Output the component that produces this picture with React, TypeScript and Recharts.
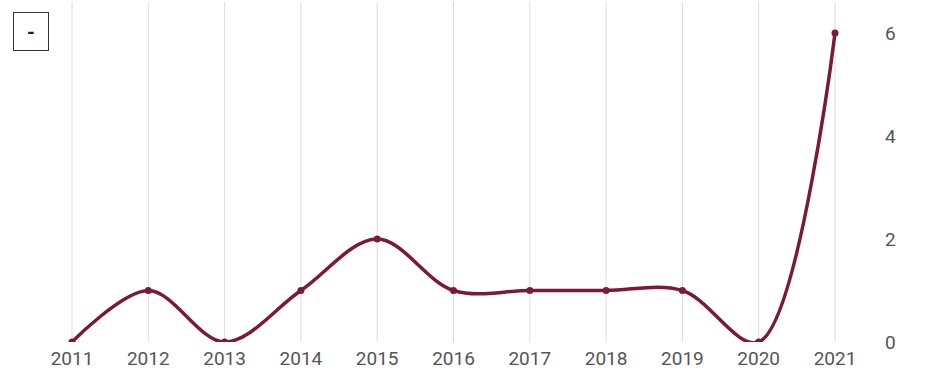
import { LineChart, Line, XAxis, YAxis, CartesianGrid } from 'recharts';

const years = ['2011', '2012', '2013', '2014', '2015', '2016', '2017', '2018', '2019', '2020', '2021'];
const counts = [0, 1, 0, 1, 2, 1, 1, 1, 1, 0, 6];
const yTicks = [0, 2, 4, 6];
const seriesName = '-';

const data = years.map((year, i) => ({ year, value: counts[i] }));

const COLOR = '#7c1a33';
const TICK_FONT = 'Roboto, sans-serif';

// centripetal catmull-rom (alpha 0.5), same maths as d3's curveCatmullRom
function catmullRom(context: any) {
  let x0 = NaN, x1 = NaN, x2 = NaN, y0 = NaN, y1 = NaN, y2 = NaN;
  let l01a = 0, l12a = 0, l23a = 0, l012a = 0, l122a = 0, l232a = 0;
  let n = 0;
  const eps = 1e-12;

  const seg = (x: number, y: number) => {
    let cx1 = x1, cy1 = y1, cx2 = x2, cy2 = y2;
    if (l01a > eps) {
      const a = 2 * l012a + 3 * l01a * l12a + l122a;
      const m = 3 * l01a * (l01a + l12a);
      cx1 = (x1 * a - x0 * l122a + x2 * l012a) / m;
      cy1 = (y1 * a - y0 * l122a + y2 * l012a) / m;
    }
    if (l23a > eps) {
      const b = 2 * l232a + 3 * l23a * l12a + l122a;
      const m = 3 * l23a * (l23a + l12a);
      cx2 = (x2 * b + x1 * l232a - x * l122a) / m;
      cy2 = (y2 * b + y1 * l232a - y * l122a) / m;
    }
    context.bezierCurveTo(cx1, cy1, cx2, cy2, x2, y2);
  };

  const point = (x: number, y: number) => {
    x = +x;
    y = +y;
    if (n) {
      const dx = x2 - x, dy = y2 - y;
      l232a = Math.sqrt(dx * dx + dy * dy);
      l23a = Math.sqrt(l232a);
    }
    if (n === 0) {
      n = 1;
      context.moveTo(x, y);
    } else if (n === 1) {
      n = 2;
    } else {
      n = 3;
      seg(x, y);
    }
    l01a = l12a; l12a = l23a;
    l012a = l122a; l122a = l232a;
    x0 = x1; x1 = x2; x2 = x;
    y0 = y1; y1 = y2; y2 = y;
  };

  return {
    areaStart() {},
    areaEnd() {},
    lineStart() {
      x0 = x1 = x2 = y0 = y1 = y2 = NaN;
      l01a = l12a = l23a = l012a = l122a = l232a = 0;
      n = 0;
    },
    lineEnd() {
      if (n === 2) context.lineTo(x2, y2);
      else if (n === 3) point(x2, y2);
    },
    point,
  };
}

export default function App() {
  return (
    <div style={{ position: 'absolute', left: 0, top: 0, width: 937, height: 372, background: '#fff' }}>
      <LineChart width={937} height={372} data={data} margin={{ top: 2, right: 0, bottom: 0, left: 72 }}>
        <CartesianGrid horizontal={false} stroke="#dcdcdc" />
        <XAxis
          dataKey="year"
          axisLine={false}
          tickLine={false}
          tickSize={0}
          tickMargin={10}
          height={30}
          interval={0}
          tick={{ fill: '#555', fontSize: 19, fontFamily: TICK_FONT }}
        />
        <YAxis
          orientation="right"
          domain={[0, 6.6]}
          allowDataOverflow
          ticks={yTicks}
          axisLine={false}
          tickLine={false}
          tickSize={0}
          tickMargin={50}
          width={102}
          tick={{ fill: '#555', fontSize: 19, fontFamily: TICK_FONT, textAnchor: 'start' }}
        />
        <Line
          dataKey="value"
          name={seriesName}
          type={catmullRom as any}
          stroke={COLOR}
          strokeWidth={3.5}
          dot={{ r: 3.5, fill: COLOR, stroke: COLOR, strokeWidth: 0 }}
          activeDot={false}
          isAnimationActive={false}
        />
      </LineChart>
      <div
        style={{
          position: 'absolute',
          left: 13,
          top: 12,
          width: 36,
          height: 39,
          border: '1.5px solid #333',
          boxSizing: 'border-box',
          display: 'flex',
          alignItems: 'center',
          justifyContent: 'center',
          fontFamily: TICK_FONT,
          fontWeight: 700,
          fontSize: 20,
          color: '#222',
          background: '#fff',
        }}
      >
        {seriesName}
      </div>
    </div>
  );
}
